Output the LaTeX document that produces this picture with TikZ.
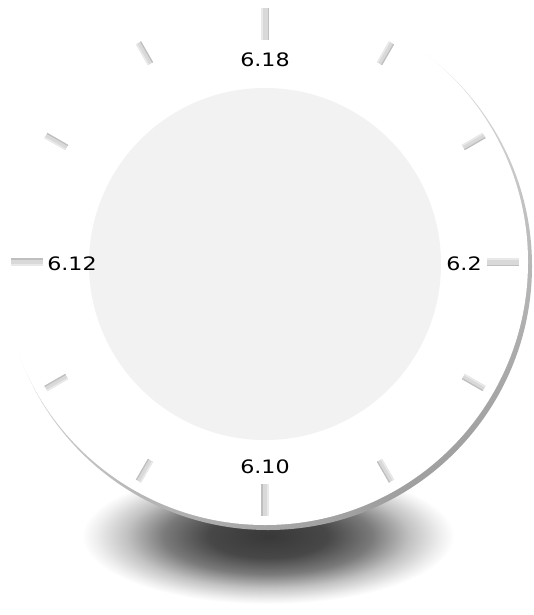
\documentclass[tikz,border=0pt]{standalone}
\usepackage{fontspec}
\newfontfamily\lblfont{DejaVu Sans}
\pgfdeclareradialshading{softshadow}{\pgfpoint{0bp}{0bp}}{color(0bp)=(black!78); color(8bp)=(black!72); color(14bp)=(black!52); color(19bp)=(black!24); color(23bp)=(black!7); color(25bp)=(white); color(50bp)=(white)}
\tikzset{
  lbl/.style={font=\lblfont\fontsize{18.5}{18.5}\selectfont, text=black, inner sep=0pt, xscale=1.2},
  tickbody/.style={fill=gray!30},
  ticklight/.style={fill=gray!17},
  tickdark/.style={fill=gray!50},
}
\begin{document}
\begin{tikzpicture}[x=1pt,y=-1pt]
\fill[white] (0,0) rectangle (534,615);
\useasboundingbox (0,0) rectangle (534,615);
% shadow
\shade[shading=softshadow] (268,536) ellipse [x radius=186, y radius=68];
% rim
\shade[top color=white, middle color=gray!25, bottom color=gray!75, shading angle=30] (268,266) circle [radius=264];
% white face
\fill[white] (265,262) circle [radius=263];
% inner disc
\fill[gray!10] (265,264) circle [radius=176];
% ticks
\foreach \a in {0,90,180,270}{
  \begin{scope}[shift={(265,262)}, rotate=\a]
    \path[tickbody] (222,-4) rectangle (254,4);
    \path[ticklight] (222,-4) rectangle (254,-2);
    \path[tickdark] (222,2.5) rectangle (254,4);
  \end{scope}
}
\foreach \a in {30,60,120,150,210,240,300,330}{
  \begin{scope}[shift={(265,262)}, rotate=\a]
    \path[tickbody] (229,-3) rectangle (253,3);
    \path[ticklight] (229,-3) rectangle (253,-1.5);
    \path[tickdark] (229,1.8) rectangle (253,3);
  \end{scope}
}
% labels
\node[lbl] (l618) at (265,60) {6.18};
\node[lbl] (l612) at (72,264) {6.12};
\node[lbl] (l62) at (464,264) {6.2};
\node[lbl] (l610) at (265,466.5) {6.10};
\end{tikzpicture}
\end{document}
